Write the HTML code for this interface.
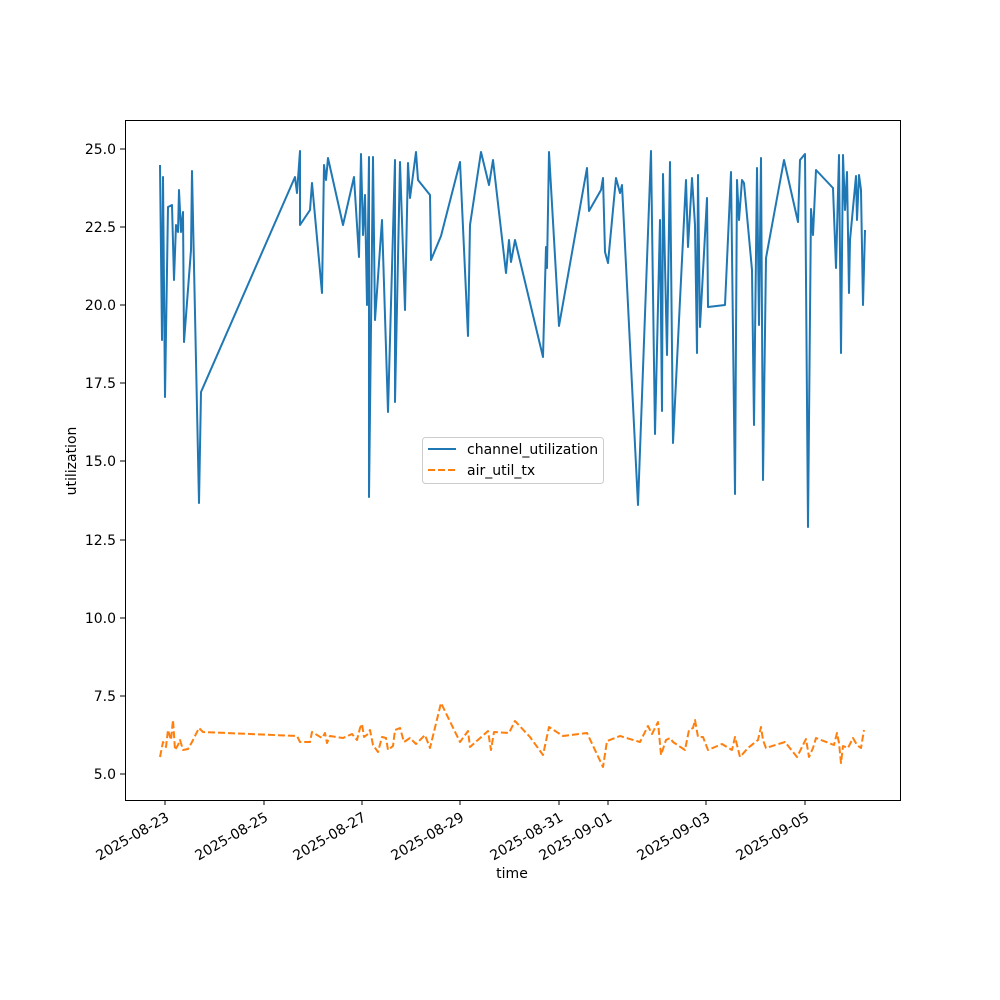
<!DOCTYPE html>
<html><head><meta charset="utf-8"><style>
html,body{margin:0;padding:0;background:#fff;}
svg{display:block;font-family:"DejaVu Sans","Liberation Sans",sans-serif;}
</style></head><body>
<svg width="1000" height="1000" viewBox="0 0 1000 1000" xmlns="http://www.w3.org/2000/svg">
<rect width="1000" height="1000" fill="#fff"/>
<g font-size="14" fill="#000">
<g stroke="#000" stroke-width="1">
<line x1="120" y1="774" x2="125" y2="774"/><line x1="120" y1="696" x2="125" y2="696"/>
<line x1="120" y1="618" x2="125" y2="618"/><line x1="120" y1="540" x2="125" y2="540"/>
<line x1="120" y1="461" x2="125" y2="461"/><line x1="120" y1="383" x2="125" y2="383"/>
<line x1="120" y1="305" x2="125" y2="305"/><line x1="120" y1="227" x2="125" y2="227"/>
<line x1="120" y1="149" x2="125" y2="149"/>
</g>
<g text-anchor="end">
<text x="116" y="779">5.0</text><text x="116" y="701">7.5</text>
<text x="116" y="623">10.0</text><text x="116" y="545">12.5</text>
<text x="116" y="466">15.0</text><text x="116" y="388">17.5</text>
<text x="116" y="310">20.0</text><text x="116" y="232">22.5</text>
<text x="116" y="154">25.0</text>
</g>
<g stroke="#000" stroke-width="1">
<line x1="165" y1="800" x2="165" y2="805"/><line x1="264" y1="800" x2="264" y2="805"/>
<line x1="362" y1="800" x2="362" y2="805"/><line x1="460" y1="800" x2="460" y2="805"/>
<line x1="559" y1="800" x2="559" y2="805"/><line x1="608" y1="800" x2="608" y2="805"/>
<line x1="706" y1="800" x2="706" y2="805"/><line x1="805" y1="800" x2="805" y2="805"/>
</g>
<g text-anchor="end">
<text transform="translate(170,820) rotate(-30)">2025-08-23</text>
<text transform="translate(269,820) rotate(-30)">2025-08-25</text>
<text transform="translate(367,820) rotate(-30)">2025-08-27</text>
<text transform="translate(465,820) rotate(-30)">2025-08-29</text>
<text transform="translate(564,820) rotate(-30)">2025-08-31</text>
<text transform="translate(613,820) rotate(-30)">2025-09-01</text>
<text transform="translate(711,820) rotate(-30)">2025-09-03</text>
<text transform="translate(810,820) rotate(-30)">2025-09-05</text>
</g>
<text x="512" y="878" text-anchor="middle">time</text>
<text transform="translate(76,461) rotate(-90)" text-anchor="middle">utilization</text>
</g>
<polyline fill="none" stroke="#1f77b4" stroke-width="2" stroke-linejoin="round" points="160,165 162,340 163,177 165,397 168,207 172,205 174,280 176,225 178,232 179,190 181,232 183,212 184,342 191,250 192,171 199,503 201,392 295,177 297,193 300,151 300,225 310,210 312,183 322,293 324,165 326,180 328,158 343,225 354,177 359,257 361,154 363,235 365,195 367,305 369,157 369,497 373,157 375,320 382,220 388,412 395,160 395,402 400,162 405,310 408,163 410,198 416,152 418,180 430,195 431,260 441,236 460,162 468,336 470,225 481,152 489,185 493,160 506,273 509,240 511,262 515,240 543,357 546,247 547,268 549,152 559,326 587,168 589,211 601,190 603,178 605,252 608,263 616,178 620,193 622,185 638,505 651,151 655,434 660,220 662,411 663,174 667,355 670,162 673,443 680,300 686,180 688,247 692,178 695,225 697,353 698,175 700,327 707,198 708,307 725,305 731,172 735,494 737,180 739,220 742,180 744,183 752,270 754,425 757,168 759,325 761,158 763,480 766,258 784,160 798,222 800,160 805,154 808,527 811,209 813,235 816,170 833,188 836,268 839,155 841,353 843,155 845,210 847,172 849,293 850,240 856,176 857,220 859,175 861,190 863,305 865,230"/>
<polyline fill="none" stroke="#ff7f0e" stroke-width="2" stroke-dasharray="7,3" stroke-linejoin="round" points="160,757 163,742 166,747 168,730 171,740 173,720 175,750 178,745 180,740 183,750 188,749 192,742 199,728 203,732 297,736 300,742 310,742 312,732 322,738 325,733 327,743 330,736 343,738 352,734 357,740 360,728 362,724 364,737 368,734 370,730 373,745 378,752 382,737 386,738 388,750 393,746 395,730 400,728 404,742 410,738 416,744 425,735 430,748 441,703 460,742 468,731 470,747 488,731 491,750 494,732 509,733 515,721 530,737 543,755 549,727 563,736 587,733 603,767 607,741 620,736 640,742 648,726 652,734 658,722 661,755 666,740 670,738 673,742 685,750 689,730 693,728 695,720 698,737 703,737 708,750 722,744 732,750 735,737 740,757 748,748 758,740 761,727 763,740 766,748 785,742 797,757 806,739 809,757 813,748 816,738 834,745 837,733 839,743 841,763 843,746 848,748 853,738 857,745 861,748 864,730"/>
<rect x="125.5" y="120.5" width="775" height="680" fill="none" stroke="#000" stroke-width="1"/>
<rect x="422.5" y="437.5" width="181" height="46" rx="3" fill="#fff" fill-opacity="0.8" stroke="#ccc"/>
<line x1="428" y1="449" x2="456" y2="449" stroke="#1f77b4" stroke-width="2"/>
<line x1="428" y1="470" x2="456" y2="470" stroke="#ff7f0e" stroke-width="2" stroke-dasharray="7,3"/>
<text x="467" y="454" font-size="14">channel_utilization</text>
<text x="467" y="475" font-size="14">air_util_tx</text>
</svg>
</body></html>
